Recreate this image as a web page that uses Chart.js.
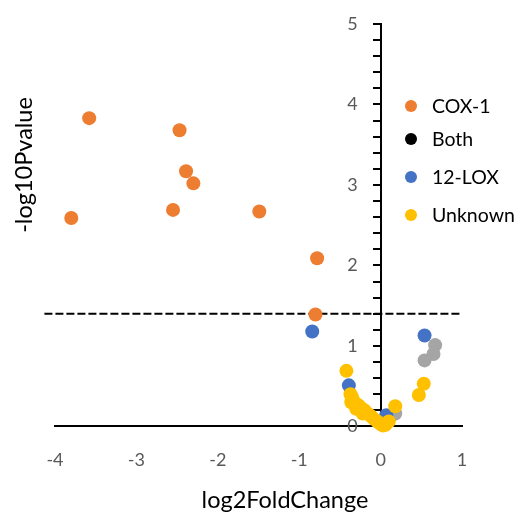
<!DOCTYPE html>
<html><head><meta charset="utf-8">
<script src="https://cdn.jsdelivr.net/npm/chart.js@4"></script>
<style>html,body{margin:0;padding:0;background:#fff}</style>
</head><body>
<canvas id="c" width="516" height="515"></canvas>
<script>
// ---- data ----
const cox1X = [-3.58, -2.47, -2.39, -2.30, -2.55, -3.80, -1.49, -0.78, -0.80];
const cox1Y = [3.83, 3.68, 3.17, 3.02, 2.69, 2.59, 2.67, 2.09, 1.39];
const bothX = [];
const bothY = [];
const lox12X = [-0.84, 0.54, -0.39, 0.07];
const lox12Y = [1.18, 1.13, 0.51, 0.14];
const otherX = [0.67, 0.65, 0.54, 0.18, 0.12];
const otherY = [1.01, 0.90, 0.82, 0.16, 0.12];
const unknownX = [-0.42, 0.53, 0.47, 0.18, -0.37, -0.35, -0.33, -0.30, -0.27, -0.24, -0.20, -0.16, -0.12, -0.08, -0.04, 0.00, 0.03, 0.06, 0.10, -0.36, -0.30, -0.22];
const unknownY = [0.69, 0.53, 0.39, 0.25, 0.40, 0.36, 0.31, 0.28, 0.26, 0.23, 0.20, 0.16, 0.13, 0.09, 0.06, 0.03, 0.01, 0.02, 0.06, 0.30, 0.22, 0.16];
const thresholdX = [-4.13, 1];
const thresholdY = [1.4, 1.4];
const legendLabels = ['COX-1', 'Both', '12-LOX', 'Unknown'];
const xTickLabels = ['-4', '-3', '-2', '-1', '0', '1'];
const yTickLabels = ['0', '1', '2', '3', '4', '5'];
const xTitle = 'log2FoldChange';
const yTitle = '-log10Pvalue';

// ---- styles ----
const COLORS = {cox1: '#ED7D31', both: '#000000', lox12: '#4472C4', other: '#A5A5A5', unknown: '#FFC000'};
const legendColors = [COLORS.cox1, COLORS.both, COLORS.lox12, COLORS.unknown];
const FONT = 'Lato, "Open Sans", sans-serif';

const pts = (xs, ys) => xs.map((x, i) => ({x, y: ys[i]}));

const overlay = {
  id: 'overlay',
  afterDraw(chart) {
    const ctx = chart.ctx;
    ctx.save();
    ctx.textBaseline = 'middle';
    ctx.textAlign = 'left';
    ctx.font = '19.5px ' + FONT;
    const ys = [106, 139, 177, 215];
    legendLabels.forEach((t, i) => {
      ctx.fillStyle = legendColors[i];
      ctx.beginPath();
      ctx.arc(411, ys[i], 6, 0, Math.PI * 2);
      ctx.fill();
      ctx.fillStyle = '#000';
      ctx.fillText(t, 432, ys[i] + 1);
    });
    ctx.font = '23.5px ' + FONT;
    ctx.textAlign = 'center';
    ctx.fillStyle = '#000';
    ctx.fillText(xTitle, 285, 500);
    ctx.translate(24, 165);
    ctx.rotate(-Math.PI / 2);
    ctx.fillText(yTitle, 0, 0);
    ctx.restore();
  }
};

const ptStyle = (label, xs, ys, color, order) => ({
  label, data: pts(xs, ys), backgroundColor: color, borderWidth: 0,
  pointRadius: 7, pointHoverRadius: 7, clip: false, order
});

new Chart(document.getElementById('c'), {
  type: 'scatter',
  data: {
    datasets: [
      ptStyle('Unknown', unknownX, unknownY, COLORS.unknown, 0),
      ptStyle('COX-1', cox1X, cox1Y, COLORS.cox1, 1),
      ptStyle('Both', bothX, bothY, COLORS.both, 2),
      ptStyle('12-LOX', lox12X, lox12Y, COLORS.lox12, 3),
      ptStyle('Other', otherX, otherY, COLORS.other, 4),
      {label: 'threshold', data: pts(thresholdX, thresholdY), showLine: true,
       borderColor: '#000', borderWidth: 2, borderDash: [8, 3], pointRadius: 0,
       clip: false, order: 5}
    ]
  },
  options: {
    responsive: false,
    animation: false,
    events: [],
    layout: {padding: {left: 55, right: 54, top: 24, bottom: 29}},
    plugins: {legend: {display: false}, tooltip: {enabled: false}},
    scales: {
      x: {
        type: 'linear', position: 'bottom', min: -4, max: 1,
        grid: {display: false},
        border: {display: true, color: '#000', width: 2},
        ticks: {stepSize: 1, padding: 15, color: '#595959', font: {family: FONT, size: 18},
          callback: (v) => xTickLabels[Math.round(v) + 4] ?? ''}
      },
      y: {
        type: 'linear', position: {x: 0}, min: 0, max: 5,
        grid: {display: true, drawOnChartArea: false, drawTicks: true, tickLength: 7, color: '#000', lineWidth: 2},
        border: {display: true, color: '#000', width: 2},
        ticks: {stepSize: 0.2, autoSkip: false, color: '#595959', font: {family: FONT, size: 18},
          callback: () => ''}
      },
      yLabels: {
        type: 'linear', axis: 'y', position: {x: -0.28}, min: 0, max: 5,
        grid: {display: false},
        border: {display: false},
        ticks: {stepSize: 1, color: '#595959', font: {family: FONT, size: 18},
          callback: (v) => yTickLabels[Math.round(v)] ?? ''}
      }
    }
  },
  plugins: [overlay]
});
</script>
</body></html>
